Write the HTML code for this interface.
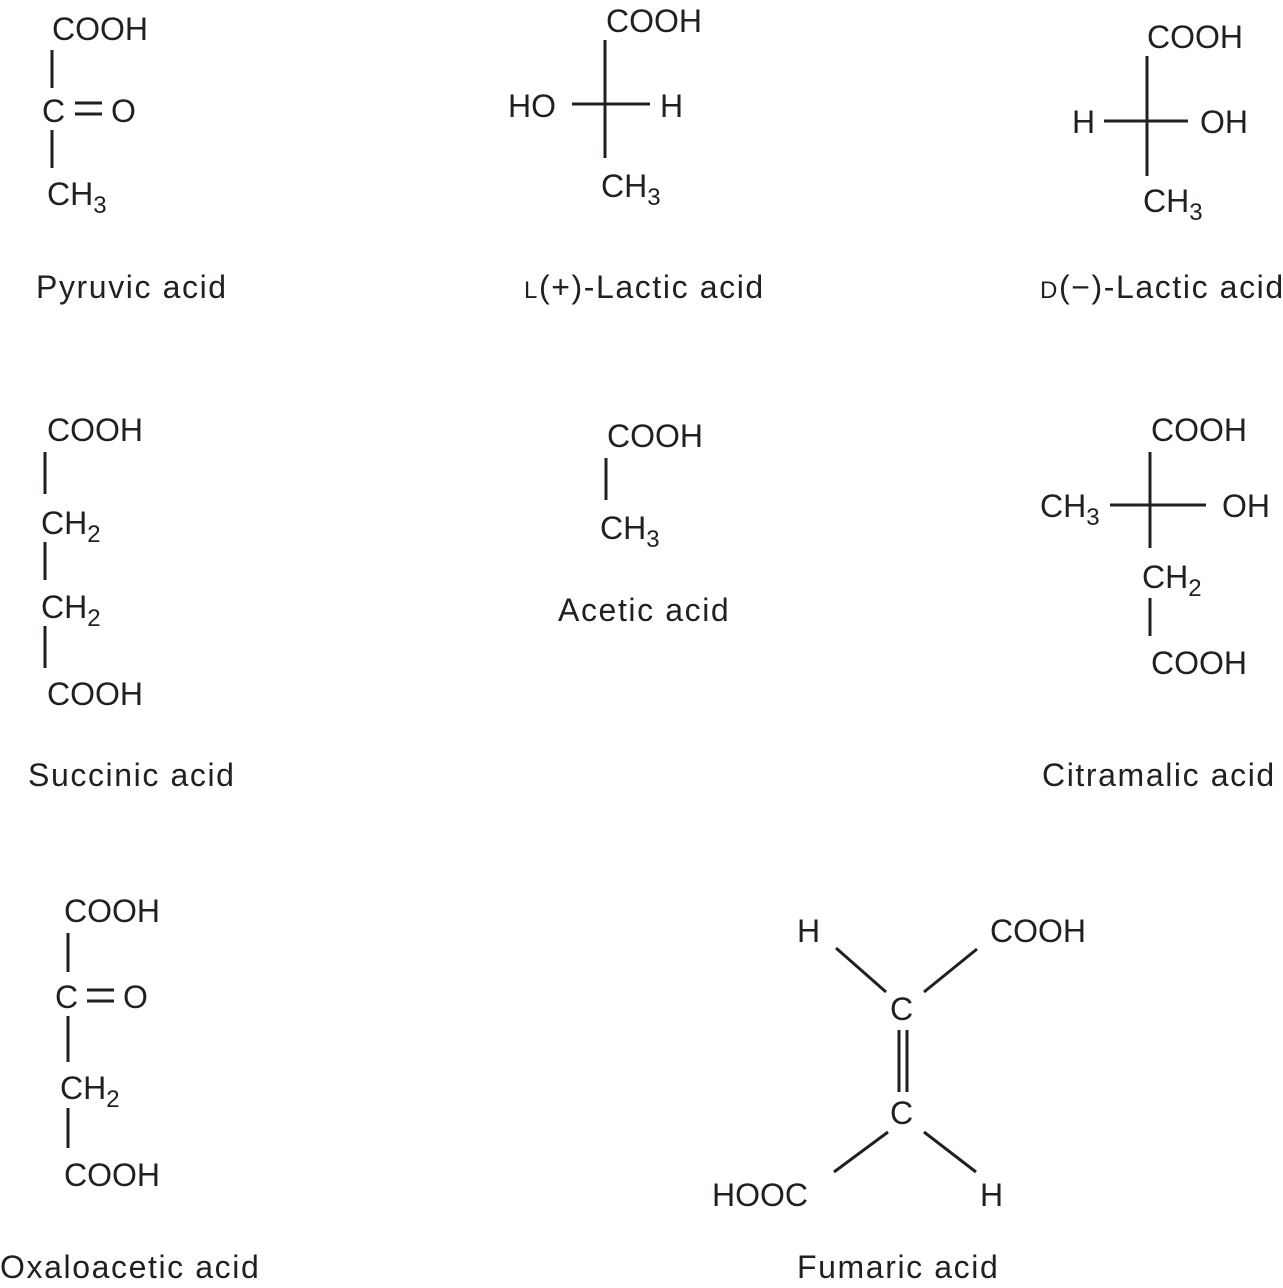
<!DOCTYPE html>
<html><head><meta charset="utf-8"><style>
html,body{margin:0;padding:0;background:#fff;}
svg{display:block;}
text{font-family:"Liberation Sans",sans-serif;font-size:32px;fill:#231f20;}
.s{font-size:24px;}
.l{letter-spacing:1.6px;}
line{stroke:#231f20;stroke-width:3;}
</style></head><body>
<svg width="1283" height="1288" viewBox="0 0 1283 1288">
<!-- Pyruvic -->
<text x="52" y="40">COOH</text>
<line x1="52" y1="50" x2="52" y2="88"/>
<text x="42" y="122">C</text>
<line x1="75" y1="103" x2="102" y2="103"/><line x1="75" y1="114" x2="102" y2="114"/>
<text x="111" y="122">O</text>
<line x1="52" y1="130" x2="52" y2="168"/>
<text x="47" y="205">CH<tspan class="s" dy="8">3</tspan></text>
<text class="l" x="36" y="298">Pyruvic acid</text>

<!-- L-Lactic -->
<text x="606" y="32">COOH</text>
<line x1="605" y1="40" x2="605" y2="158"/>
<line x1="572" y1="104" x2="650" y2="104"/>
<text x="508" y="117">HO</text>
<text x="660" y="117">H</text>
<text x="601" y="197">CH<tspan class="s" dy="8">3</tspan></text>
<text class="l" x="524" y="298"><tspan class="s">L</tspan>(+)-Lactic acid</text>

<!-- D-Lactic -->
<text x="1147" y="48">COOH</text>
<line x1="1147" y1="56" x2="1147" y2="176"/>
<line x1="1104" y1="121" x2="1188" y2="121"/>
<text x="1072" y="133">H</text>
<text x="1200" y="133">OH</text>
<text x="1143" y="212">CH<tspan class="s" dy="8">3</tspan></text>
<text class="l" x="1040" y="298"><tspan class="s">D</tspan>(−)-Lactic acid</text>

<!-- Succinic -->
<text x="47" y="441">COOH</text>
<line x1="45" y1="452" x2="45" y2="494"/>
<text x="41" y="534">CH<tspan class="s" dy="8">2</tspan></text>
<line x1="45" y1="542" x2="45" y2="580"/>
<text x="41" y="618">CH<tspan class="s" dy="8">2</tspan></text>
<line x1="45" y1="626" x2="45" y2="668"/>
<text x="47" y="705">COOH</text>
<text class="l" x="28" y="786">Succinic acid</text>

<!-- Acetic -->
<text x="607" y="447">COOH</text>
<line x1="606" y1="458" x2="606" y2="500"/>
<text x="600" y="539">CH<tspan class="s" dy="8">3</tspan></text>
<text class="l" x="558" y="621">Acetic acid</text>

<!-- Citramalic -->
<text x="1151" y="441">COOH</text>
<line x1="1150" y1="452" x2="1150" y2="548"/>
<line x1="1110" y1="505" x2="1206" y2="505"/>
<text x="1040" y="517">CH<tspan class="s" dy="8">3</tspan></text>
<text x="1222" y="517">OH</text>
<text x="1142" y="588">CH<tspan class="s" dy="8">2</tspan></text>
<line x1="1150" y1="598" x2="1150" y2="636"/>
<text x="1151" y="674">COOH</text>
<text class="l" x="1042" y="786">Citramalic acid</text>

<!-- Oxaloacetic -->
<text x="64" y="922">COOH</text>
<line x1="68" y1="933" x2="68" y2="972"/>
<text x="55" y="1008">C</text>
<line x1="87" y1="990" x2="114" y2="990"/><line x1="87" y1="1001" x2="114" y2="1001"/>
<text x="123" y="1008">O</text>
<line x1="68" y1="1016" x2="68" y2="1062"/>
<text x="60" y="1099">CH<tspan class="s" dy="8">2</tspan></text>
<line x1="68" y1="1108" x2="68" y2="1148"/>
<text x="64" y="1186">COOH</text>
<text class="l" x="0" y="1278">Oxaloacetic acid</text>

<!-- Fumaric -->
<text x="797" y="942">H</text>
<text x="990" y="942">COOH</text>
<line x1="836" y1="948" x2="886" y2="992"/>
<line x1="977" y1="949" x2="924" y2="992"/>
<text x="890" y="1020">C</text>
<line x1="899" y1="1030" x2="899" y2="1092"/>
<line x1="907" y1="1030" x2="907" y2="1092"/>
<text x="890" y="1124">C</text>
<line x1="888" y1="1132" x2="834" y2="1172"/>
<line x1="924" y1="1132" x2="976" y2="1172"/>
<text x="712" y="1206">HOOC</text>
<text x="980" y="1206">H</text>
<text class="l" x="797" y="1278">Fumaric acid</text>
</svg>
</body></html>
